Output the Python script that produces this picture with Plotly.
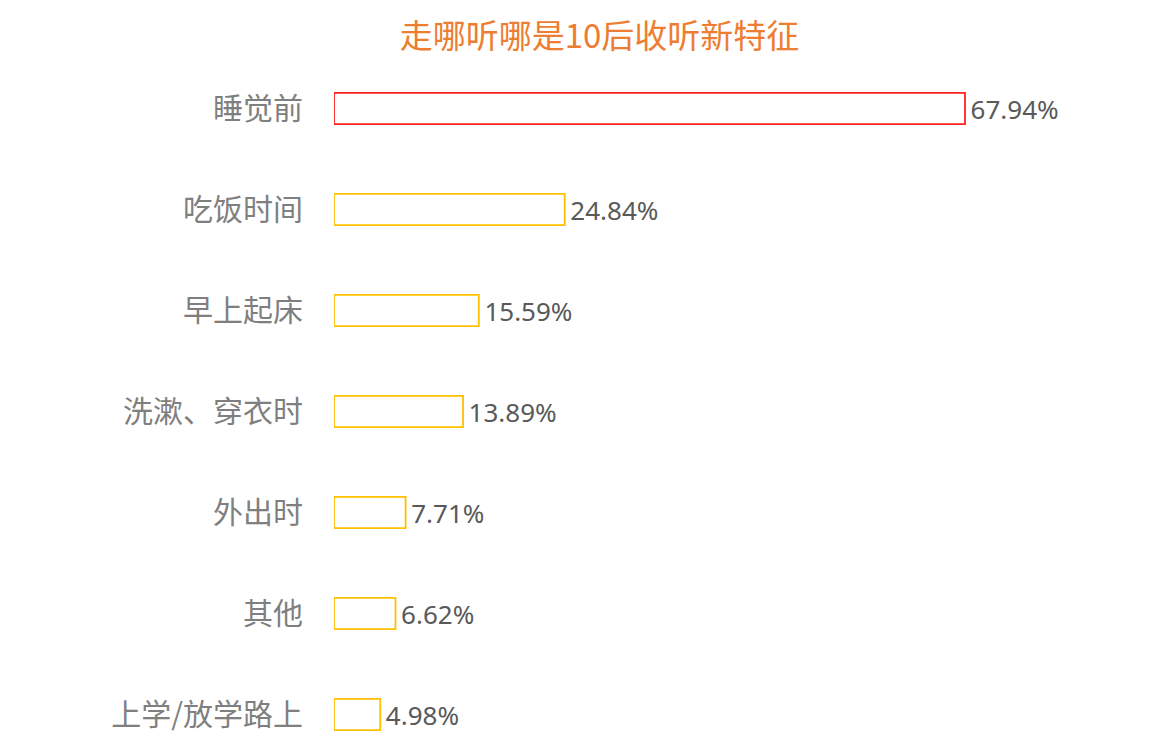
import plotly.graph_objects as go

# Data
categories = ["睡觉前", "吃饭时间", "早上起床", "洗漱、穿衣时", "外出时", "其他", "上学/放学路上"]
values = [67.94, 24.84, 15.59, 13.89, 7.71, 6.62, 4.98]
value_labels = [f"\u200a{v:.2f}%" for v in values]

FONT = "Noto Sans CJK SC, Noto Sans, sans-serif"
NUM_FONT = "Noto Sans, sans-serif"
ORANGE = "#ED7D31"
RED = "#FF2020"
GOLD = "#FFC000"
GRAY = "#7F7F7F"
DARK = "#595959"

line_colors = [RED] + [GOLD] * (len(values) - 1)

fig = go.Figure()
fig.add_trace(go.Bar(
    x=values,
    y=categories,
    orientation="h",
    marker=dict(color="white", line=dict(color=line_colors, width=1.8)),
    text=value_labels,
    textposition="outside",
    constraintext="none",
    textfont=dict(family=NUM_FONT, size=26, color=DARK),
    cliponaxis=False,
    width=0.31,
    showlegend=False,
))

fig.update_layout(
    title=dict(
        text="走哪听哪是10后收听新特征",
        font=dict(family=FONT, size=33, color=ORANGE),
        xref="container", x=0.506, xanchor="center",
        yref="container", y=0.963, yanchor="middle",
    ),
    width=1169, height=756,
    margin=dict(l=326, r=100, t=50, b=0),
    paper_bgcolor="white",
    plot_bgcolor="white",
    xaxis=dict(range=[0, 80], visible=False, showgrid=False, zeroline=False),
    yaxis=dict(
        categoryorder="array", categoryarray=categories,
        range=[6.49, -0.5],
        showgrid=False, zeroline=False, showline=False,
        ticks="", ticklabelstandoff=30,
        tickfont=dict(family=FONT, size=30, color=GRAY),
    ),
    font=dict(family=FONT),
)

fig.write_html("out.html")
